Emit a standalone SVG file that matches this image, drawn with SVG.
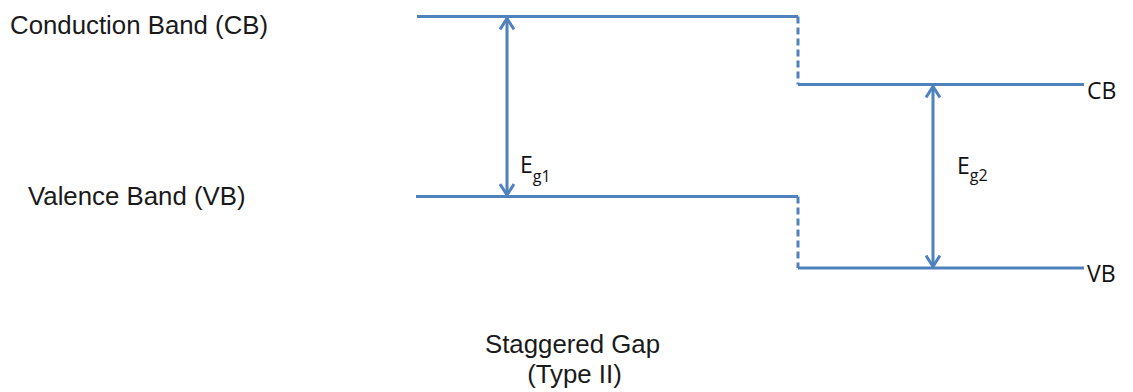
<svg xmlns="http://www.w3.org/2000/svg" width="1133" height="392" viewBox="0 0 1133 392">
<style>
.band{fill:none;stroke:#4f81bd;stroke-width:3}
.dash{fill:none;stroke:#4f81bd;stroke-width:3;stroke-dasharray:7 4}
.arr{fill:none;stroke:#4f81bd;stroke-width:3;marker-start:url(#chev);marker-end:url(#chev)}
.lbl{font-family:"Liberation Sans",Arial,sans-serif;font-size:25.8px;fill:#1a1a1a}
.cal{font-family:"Open Sans","Noto Sans",sans-serif;font-size:23px;fill:#111}
.sub{font-size:16px}
</style>
<defs>
<marker id="chev" viewBox="0 0 14 16" refX="12" refY="8" markerWidth="14" markerHeight="16" orient="auto-start-reverse" markerUnits="userSpaceOnUse">
<path d="M1,1 L12,8 L1,15" fill="none" stroke="#4f81bd" stroke-width="3"/>
</marker>
</defs>
<g id="labels-left">
<text class="lbl" x="10" y="34">Conduction Band (CB)</text>
<text class="lbl" x="28" y="205">Valence Band (VB)</text>
</g>
<g id="material1">
<path class="band" d="M417,16.5 H798"/>
<path class="band" d="M416,196.5 H798"/>
</g>
<g id="material2">
<path class="band" d="M798,84.5 H1084"/>
<path class="band" d="M798,268 H1084"/>
<text class="cal" x="1087" y="99">CB</text>
<text class="cal" x="1087" y="282">VB</text>
</g>
<g id="connectors">
<path class="dash" d="M798,16.5 V84.5"/>
<path class="dash" d="M798,196.5 V268"/>
<path class="arr" d="M507,18.5 V195"/>
<path class="arr" d="M933,86.5 V266.5"/>
</g>
<g id="eg1">
<text class="cal" x="520" y="173">E<tspan class="sub" dy="9">g1</tspan></text>
</g>
<g id="eg2">
<text class="cal" x="957" y="174">E<tspan class="sub" dy="7">g2</tspan></text>
</g>
<g id="caption">
<text class="lbl" x="572.5" y="353" text-anchor="middle">Staggered Gap</text>
<text class="lbl" x="574.5" y="383" text-anchor="middle">(Type II)</text>
</g>
</svg>
